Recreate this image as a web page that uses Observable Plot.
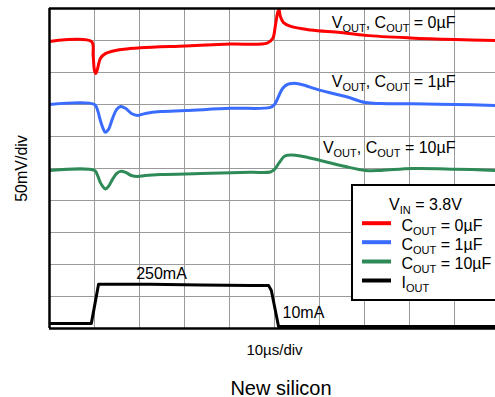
<!DOCTYPE html>
<html>
<head>
<meta charset="utf-8">
<script src="https://cdn.jsdelivr.net/npm/d3@7"></script>
<script src="https://cdn.jsdelivr.net/npm/@observablehq/plot@0.6"></script>
<style>
  html, body { margin: 0; padding: 0; background: #fff; overflow: hidden; }
  #chart svg { display: block; }
</style>
</head>
<body>
<div id="chart"></div>
<script>
// ---- Data (x in time divisions of 10µs, y in vertical divisions) ----
const redX   = [0, 0.93, 0.97, 1.0, 1.03, 1.07, 1.13, 1.24, 1.47, 2.02, 3.02, 4.02, 4.84, 4.96, 5.02, 5.07, 5.1, 5.13, 5.2, 5.36, 5.8, 6.47, 7.02, 8.02, 9.02, 9.91];
const redY   = [8.97, 8.97, 8.53, 8.06, 7.97, 8.13, 8.44, 8.59, 8.69, 8.77, 8.83, 8.89, 8.92, 9.06, 9.47, 9.88, 9.97, 9.75, 9.56, 9.44, 9.33, 9.25, 9.16, 9.08, 9.03, 9.0];

const blueX  = [0, 1.0, 1.07, 1.13, 1.2, 1.24, 1.31, 1.4, 1.49, 1.58, 1.69, 1.82, 1.96, 2.13, 2.47, 3.02, 4.02, 4.91, 5.0, 5.09, 5.18, 5.29, 5.4, 5.58, 6.02, 6.58, 7.02, 7.36, 8.07, 9.02, 9.91];
const blueY  = [7.0, 7.0, 6.81, 6.5, 6.22, 6.13, 6.22, 6.56, 6.84, 6.94, 6.88, 6.72, 6.66, 6.72, 6.78, 6.81, 6.88, 6.91, 7.0, 7.25, 7.5, 7.63, 7.66, 7.63, 7.44, 7.25, 7.06, 7.03, 7.02, 7.0, 6.97];

const greenX = [0, 1.0, 1.07, 1.13, 1.2, 1.24, 1.31, 1.4, 1.49, 1.58, 1.69, 1.82, 1.96, 2.13, 2.47, 3.36, 4.47, 4.91, 5.0, 5.11, 5.22, 5.36, 5.58, 6.02, 6.58, 7.02, 7.36, 8.07, 9.02, 9.91];
const greenY = [4.94, 4.94, 4.78, 4.56, 4.41, 4.36, 4.44, 4.66, 4.84, 4.91, 4.88, 4.78, 4.75, 4.78, 4.81, 4.84, 4.88, 4.89, 4.97, 5.19, 5.38, 5.42, 5.39, 5.25, 5.06, 4.94, 4.94, 5.0, 4.98, 4.94];

const ioutX  = [0, 0.93, 1.09, 2.24, 3.36, 4.47, 4.87, 4.93, 5.09, 9.91];
const ioutY  = [0.16, 0.16, 1.38, 1.38, 1.36, 1.34, 1.34, 1.19, 0.06, 0.06];

const seriesNames  = ["C_{OUT} = 0µF", "C_{OUT} = 1µF", "C_{OUT} = 10µF", "I_{OUT}"];
const seriesColors = ["#ff0000", "#3a6cff", "#2e8b57", "#000000"];
const traceLabels  = ["V_{OUT}, C_{OUT} = 0µF", "V_{OUT}, C_{OUT} = 1µF", "V_{OUT}, C_{OUT} = 10µF"];
const currentLabels = ["250mA", "10mA"];
const legendTitle = "V_{IN} = 3.8V";
const xLabel = "10µs/div";
const yLabel = "50mV/div";
const caption = "New silicon";

// ---- Layout ----
const W = 495, H = 397, ML = 49, MT = 8, MB = 69;
const PXDIV_X = 45, PXDIV_Y = 32;
const dx = px => (px - ML) / PXDIV_X;             // pixel x -> division
const dy = py => (H - MB - py) / PXDIV_Y;          // pixel y -> division

const toRows = (xs, ys) => xs.map((x, i) => ({x, y: ys[i]}));
const red = toRows(redX, redY), blue = toRows(blueX, blueY), green = toRows(greenX, greenY), iout = toRows(ioutX, ioutY);

const font = "Liberation Sans, Arial, sans-serif";

const traceAnn = [
  {t: traceLabels[0], x: dx(455), y: dy(27)},
  {t: traceLabels[1], x: dx(455), y: dy(86)},
  {t: traceLabels[2], x: dx(455), y: dy(152)}
];
const legendRows = seriesNames.map((n, i) => ({
  n, c: seriesColors[i], y: dy([222.7, 241.7, 261, 280][i]), yb: dy([230, 249, 268.3, 287.3][i])
}));

const lineOpts = {x: "x", y: "y", strokeWidth: 3, curve: "catmull-rom", strokeLinejoin: "round", clip: true};

const plot = Plot.plot({
  width: W, height: H,
  marginLeft: ML, marginRight: 0, marginTop: MT, marginBottom: MB,
  style: {fontFamily: font, background: "#fff", overflow: "visible"},
  x: {domain: [0, (W - ML) / PXDIV_X], axis: null},
  y: {domain: [0, 10], axis: null},
  marks: [
    Plot.ruleX(d3.range(1, 10), {stroke: "#9a9a9a", strokeWidth: 1}),
    Plot.ruleY(d3.range(1, 10), {stroke: "#9a9a9a", strokeWidth: 1}),
    Plot.line(red,   {...lineOpts, stroke: seriesColors[0]}),
    Plot.line(blue,  {...lineOpts, stroke: seriesColors[1]}),
    Plot.line(green, {...lineOpts, stroke: seriesColors[2]}),
    Plot.line(iout,  {...lineOpts, stroke: seriesColors[3], curve: "linear"}),
    // frame (left, top, bottom)
    Plot.ruleX([0], {stroke: "#000", strokeWidth: 2.5}),
    Plot.ruleY([0, 10], {stroke: "#000", strokeWidth: 2.5}),
    // trace annotations
    Plot.text(traceAnn, {x: "x", y: "y", text: "t", textAnchor: "end", lineAnchor: "bottom", fontSize: 16, fill: "#000"}),
    Plot.text([currentLabels[0]], {x: dx(161), y: dy(278), text: d => d, textAnchor: "middle", lineAnchor: "bottom", fontSize: 16, fill: "#000"}),
    Plot.text([currentLabels[1]], {x: dx(282), y: dy(317), text: d => d, textAnchor: "start", lineAnchor: "bottom", fontSize: 16, fill: "#000"}),
    // legend box
    Plot.rect([0], {x1: dx(352), x2: dx(505), y1: dy(300), y2: dy(185), fill: "#fff", stroke: "#000", strokeWidth: 2}),
    Plot.text([legendTitle], {x: dx(425), y: dy(209.3), text: d => d, textAnchor: "middle", lineAnchor: "bottom", fontSize: 16, fill: "#000"}),
    Plot.ruleY(legendRows, {y: "y", x1: dx(362), x2: dx(391), stroke: "c", strokeWidth: 4}),
    Plot.text(legendRows, {x: dx(401), y: "yb", text: "n", textAnchor: "start", lineAnchor: "bottom", fontSize: 16, fill: "#000"}),
    // axis labels and caption
    Plot.text([xLabel], {x: dx(274), y: dy(354), text: d => d, textAnchor: "middle", lineAnchor: "bottom", fontSize: 15, fill: "#000"}),
    Plot.text([yLabel], {x: dx(21), y: dy(168), text: d => d, rotate: -90, textAnchor: "middle", lineAnchor: "middle", fontSize: 16, fill: "#000"}),
    Plot.text([caption], {x: dx(280.5), y: dy(394), text: d => d, textAnchor: "middle", lineAnchor: "bottom", fontSize: 20, fill: "#000"})
  ]
});

// turn _{...} into subscript tspans
const NS = "http://www.w3.org/2000/svg";
plot.querySelectorAll("text").forEach(t => {
  const s = t.textContent;
  if (!s.includes("_{")) return;
  const fs = parseFloat(t.getAttribute("font-size") || t.parentNode.getAttribute("font-size") || 16);
  const shift = Math.round(fs * 0.25);
  while (t.firstChild) t.removeChild(t.firstChild);
  let sub = false;
  s.split(/(_\{[^}]*\})/).forEach(p => {
    if (!p) return;
    const ts = document.createElementNS(NS, "tspan");
    if (p.startsWith("_{")) {
      ts.textContent = p.slice(2, -1);
      ts.setAttribute("font-size", Math.round(fs * 0.7));
      ts.setAttribute("dy", shift);
      sub = true;
    } else {
      ts.textContent = p;
      if (sub) ts.setAttribute("dy", -shift);
      sub = false;
    }
    t.appendChild(ts);
  });
});

document.getElementById("chart").appendChild(plot);
</script>
</body>
</html>
